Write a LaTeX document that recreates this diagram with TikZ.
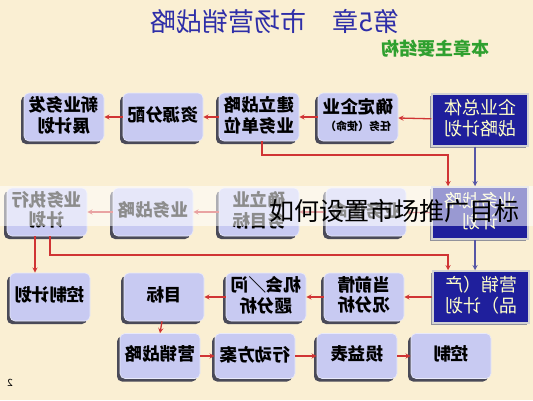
\documentclass[tikz,border=0pt]{standalone}
\usepackage{fontspec}
\setmainfont{Noto Sans CJK SC}
\usetikzlibrary{shadows}

\definecolor{paper}{HTML}{FAEFD3}
\definecolor{boxfill}{HTML}{C8CAF2}
\definecolor{shadowgray}{HTML}{4A4A58}
\definecolor{planblue}{HTML}{1F1F9C}
\definecolor{planyellow}{HTML}{FFFFC8}
\definecolor{linered}{HTML}{D03434}
\definecolor{lineblue}{HTML}{5656A6}
\definecolor{titleblue}{HTML}{2E2EA8}
\definecolor{subgreen}{HTML}{2FA02F}

% mirrored lines of text, as the slide shows them
\newcommand{\mirtext}[1]{\reflectbox{\renewcommand{\arraystretch}{0.9}\begin{tabular}{@{}c@{}}#1\end{tabular}}}

\tikzset{
	stepbox/.style={draw=white!60!boxfill, line width=0.6pt, fill=boxfill, rounded corners=5pt,
		minimum width=80pt, minimum height=48pt, inner sep=2pt,
		font=\bfseries\fontsize{17.5}{19}\selectfont,
		drop shadow={shadow xshift=-3pt, shadow yshift=-3pt, fill=shadowgray, opacity=1}},
	planbox/.style={draw=gray!35, line width=1.5pt, fill=planblue, text=planyellow,
		minimum width=96pt, minimum height=52pt, inner sep=2pt,
		font=\fontsize{18}{20}\selectfont,
		drop shadow={shadow xshift=-2pt, shadow yshift=-2pt, fill=shadowgray!60, opacity=1}},
	redline/.style={draw=linered, line width=1.3pt, ->, >=stealth},
	blueline/.style={draw=lineblue, line width=1.3pt, ->, >=stealth},
}

\begin{document}
\begin{tikzpicture}[x=1pt, y=-1pt]
	\useasboundingbox (0,0) rectangle (533,400);
	\fill[paper] (0,0) rectangle (533,400);

	\node[text=titleblue, font=\fontsize{26}{28}\selectfont] (title) at (275,21) {\reflectbox{第5章\quad 市场营销战略}};
	\node[text=subgreen, font=\bfseries\fontsize{18}{20}\selectfont] (subtitle) at (435,49) {\reflectbox{本章主要结构}};

	% first row
	\node[planbox] (corp) at (480,120) {\mirtext{企业总体\\战略计划}};
	\node[stepbox] (mission) at (358,117) {\mirtext{确定企业\\{\fontsize{11}{13}\selectfont 任务（使命）}}};
	\node[stepbox] (sbu) at (259,117) {\mirtext{建立战略\\业务单位}};
	\node[stepbox] (resource) at (163,117) {\mirtext{资源分配}};
	\node[stepbox] (newbiz) at (64,117) {\mirtext{新业务发\\展计划}};

	% second row
	\node[planbox] (unitplan) at (480,213) {\mirtext{业务战略\\计划}};
	\node[stepbox] (unitmission) at (366,212) {\mirtext{业务使命}};
	\node[stepbox] (goals) at (259,212) {\mirtext{确立业\\务目标}};
	\node[stepbox] (unitstrat) at (153,212) {\mirtext{业务战略}};
	\node[stepbox] (exec) at (47,212) {\mirtext{业务执行\\计划}};

	% third row
	\node[planbox] (mktplan) at (481,297) {\mirtext{营销（产\\品）计划}};
	\node[stepbox] (situation) at (364,297) {\mirtext{当前情\\况分析}};
	\node[stepbox] (swot) at (266,297) {\mirtext{机会／问\\题分析}};
	\node[stepbox] (target) at (164,297) {\mirtext{目标}};
	\node[stepbox] (ctrlplan) at (50,297) {\mirtext{控制计划}};

	% fourth row
	\node[stepbox, minimum height=45pt] (mktstrat) at (160,356) {\mirtext{营销战略}};
	\node[stepbox, minimum height=45pt] (action) at (255,356) {\mirtext{行动方案}};
	\node[stepbox, minimum height=45pt] (budget) at (357,356) {\mirtext{损益表}};
	\node[stepbox, minimum height=45pt] (control) at (451,356) {\mirtext{控制}};

	\coordinate (bend1) at (448,155);
	\coordinate (bend2) at (448,255);

	\draw[redline] (corp) -- (mission);
	\draw[redline] (mission) -- (sbu);
	\draw[redline] (sbu) -- (resource);
	\draw[redline] (resource) -- (newbiz);
	\draw[redline] ([xshift=3pt]sbu.south) |- (bend1) -- (bend1 |- unitplan.north);
	\draw[blueline] ([xshift=-5pt]corp.south) -- ([xshift=-5pt]unitplan.north);

	\draw[redline] (unitplan) -- (unitmission);
	\draw[redline] (unitmission) -- (goals);
	\draw[redline] (goals) -- (unitstrat);
	\draw[redline] (unitstrat) -- (exec);
	\draw[redline] ([xshift=-12pt]exec.south) -- ([xshift=-15pt]ctrlplan.north);
	\draw[redline] ([xshift=3pt]exec.south) |- (bend2) -- (bend2 |- mktplan.north);
	\draw[blueline] ([xshift=-5pt]unitplan.south) -- ([xshift=-6pt]mktplan.north);

	\draw[redline] (mktplan) -- (situation);
	\draw[redline] (situation) -- (swot);
	\draw[redline] (swot) -- (target);
	\draw[redline] ([xshift=-2pt]target.south) -- (mktstrat.north);

	\draw[redline] (mktstrat) -- (action);
	\draw[redline] (action) -- (budget);
	\draw[redline] (budget) -- (control);

	\node[font=\fontsize{10}{12}\selectfont] (page) at (10,383) {\reflectbox{2}};

	% pale band and caption laid over the second row
	\fill[white, opacity=0.55] (0,186) rectangle (533,226);
	\node[anchor=west, font=\fontsize{25}{27}\selectfont] (caption) at (266,211) {如何设置市场推广目标};
\end{tikzpicture}
\end{document}
